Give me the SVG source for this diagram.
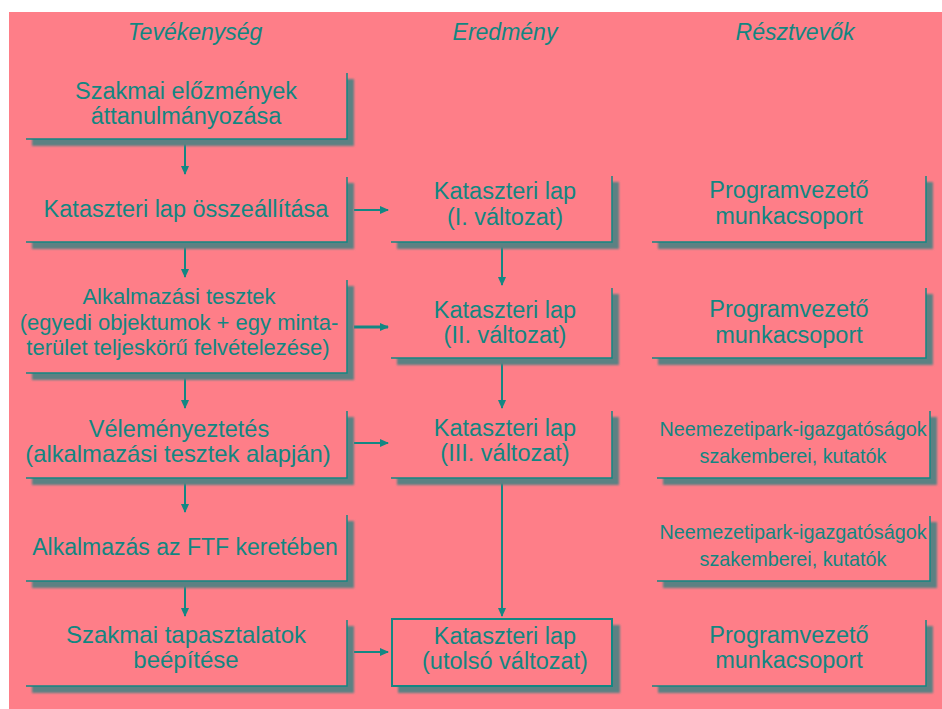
<svg xmlns="http://www.w3.org/2000/svg" width="942" height="709" viewBox="0 0 942 709">
<defs>
<style>
.bg{fill:#fe7e88}
.sh{fill:#5b8183;filter:url(#blur)}
.face{fill:#fe7e88}
.edge{fill:none;stroke:#138783;stroke-width:1.5}
.frame{fill:#fe7e88;stroke:#138783;stroke-width:2}
text{font-family:"Liberation Sans",Arial,sans-serif;fill:#128681;text-anchor:middle}
.t{font-size:23.5px}
.m{font-size:22px}
.s{font-size:19.8px}
.h{font-size:23px;font-style:italic}
.c{fill:none;stroke:#138783;stroke-width:2}
.cw{fill:none;stroke:#138783;stroke-width:3}
</style>
<filter id="blur" x="-5%" y="-5%" width="110%" height="110%"><feGaussianBlur stdDeviation="1"/></filter>
<marker id="ah" markerWidth="10" markerHeight="10" refX="8" refY="5" orient="auto" markerUnits="userSpaceOnUse">
<path d="M0,1 L9,5 L0,9 Z" fill="#138783"/>
</marker>
</defs>
<rect class="bg" x="9" y="12" width="933" height="697"/>
<g id="headers">
<text class="h" x="195" y="40">Tevékenység</text>
<text class="h" x="505" y="40">Eredmény</text>
<text class="h" x="795" y="40">Résztvevők</text>
</g>
<g id="connectors">
<path class="c" d="M185,139 V174" marker-end="url(#ah)"/>
<path class="c" d="M185,242 V277" marker-end="url(#ah)"/>
<path class="c" d="M185,373 V408" marker-end="url(#ah)"/>
<path class="c" d="M185,478 V512" marker-end="url(#ah)"/>
<path class="c" d="M185,581 V616" marker-end="url(#ah)"/>
<path class="c" d="M354,210 H388" marker-end="url(#ah)"/>
<path class="cw" d="M354,327 H388" marker-end="url(#ah)"/>
<path class="c" d="M354,443 H388" marker-end="url(#ah)"/>
<path class="c" d="M354,652 H388" marker-end="url(#ah)"/>
<path class="c" d="M502,242 V285" marker-end="url(#ah)"/>
<path class="c" d="M502,358 V408" marker-end="url(#ah)"/>
<path class="c" d="M502,478 V616" marker-end="url(#ah)"/>
</g>
<g id="n1">
<rect class="sh" x="32" y="79" width="322" height="67"/>
<rect class="face" x="26" y="73" width="321" height="66"/>
<path class="edge" d="M347,73 V139 H26"/>
<text class="t" x="186" y="99">Szakmai előzmények</text>
<text class="t" x="186" y="124">áttanulmányozása</text>
</g>
<g id="n2">
<rect class="sh" x="32" y="183" width="322" height="66"/>
<rect class="face" x="26" y="177" width="321" height="65"/>
<path class="edge" d="M347,177 V242 H26"/>
<text class="t" x="186" y="217">Kataszteri lap összeállítása</text>
</g>
<g id="n3">
<rect class="sh" x="32" y="286" width="322" height="94"/>
<rect class="face" x="26" y="280" width="321" height="93"/>
<path class="edge" d="M347,280 V373 H26"/>
<text class="m" x="179" y="304">Alkalmazási tesztek</text>
<text class="m" x="179" y="330">(egyedi objektumok + egy minta-</text>
<text class="m" x="178" y="355">terület teljeskörű felvételezése)</text>
</g>
<g id="n4">
<rect class="sh" x="32" y="417" width="322" height="68"/>
<rect class="face" x="26" y="411" width="321" height="67"/>
<path class="edge" d="M347,411 V478 H26"/>
<text class="t" x="179" y="437">Véleményeztetés</text>
<text class="t" x="178" y="462" style="font-size:23.8px">(alkalmazási tesztek alapján)</text>
</g>
<g id="n5">
<rect class="sh" x="32" y="521" width="322" height="67"/>
<rect class="face" x="26" y="515" width="321" height="66"/>
<path class="edge" d="M347,515 V581 H26"/>
<text class="t" x="185" y="555" style="font-size:23px">Alkalmazás az FTF keretében</text>
</g>
<g id="n6">
<rect class="sh" x="32" y="626" width="322" height="67"/>
<rect class="face" x="26" y="620" width="321" height="66"/>
<path class="edge" d="M347,620 V686 H26"/>
<text class="t" x="186" y="643" style="font-size:24px">Szakmai tapasztalatok</text>
<text class="t" x="186" y="668" style="font-size:24px">beépítése</text>
</g>
<g id="r1">
<rect class="sh" x="397" y="182" width="222" height="67"/>
<rect class="face" x="391" y="176" width="221" height="66"/>
<path class="edge" d="M612,176 V242 H391"/>
<text class="t" x="505" y="199">Kataszteri lap</text>
<text class="t" x="505" y="225">(I. változat)</text>
</g>
<g id="r2">
<rect class="sh" x="397" y="294" width="222" height="71"/>
<rect class="face" x="391" y="288" width="221" height="70"/>
<path class="edge" d="M612,288 V358 H391"/>
<text class="t" x="505" y="318">Kataszteri lap</text>
<text class="t" x="505" y="343">(II. változat)</text>
</g>
<g id="r3">
<rect class="sh" x="397" y="417" width="222" height="68"/>
<rect class="face" x="391" y="411" width="221" height="67"/>
<path class="edge" d="M612,411 V478 H391"/>
<text class="t" x="505" y="436">Kataszteri lap</text>
<text class="t" x="505" y="461">(III. változat)</text>
</g>
<g id="r4">
<rect class="sh" x="398" y="625" width="222" height="68"/>
<rect class="frame" x="392" y="619" width="220" height="67"/>
<text class="t" x="505" y="644">Kataszteri lap</text>
<text class="t" x="505" y="669">(utolsó változat)</text>
</g>
<g id="p1">
<rect class="sh" x="658" y="182" width="275" height="67"/>
<rect class="face" x="652" y="176" width="274" height="66"/>
<path class="edge" d="M926,176 V242 H652"/>
<text class="t" x="789" y="198">Programvezető</text>
<text class="t" x="789" y="224">munkacsoport</text>
</g>
<g id="p2">
<rect class="sh" x="658" y="294" width="275" height="71"/>
<rect class="face" x="652" y="288" width="274" height="70"/>
<path class="edge" d="M926,288 V358 H652"/>
<text class="t" x="789" y="317">Programvezető</text>
<text class="t" x="789" y="343">munkacsoport</text>
</g>
<g id="p3">
<rect class="sh" x="663" y="417" width="274" height="68"/>
<rect class="face" x="657" y="411" width="273" height="67"/>
<path class="edge" d="M930,411 V478 H657"/>
<text class="s" x="793" y="436">Neemezetipark-igazgatóságok</text>
<text class="s" x="793" y="463">szakemberei, kutatók</text>
</g>
<g id="p4">
<rect class="sh" x="663" y="522" width="274" height="66"/>
<rect class="face" x="657" y="516" width="273" height="65"/>
<path class="edge" d="M930,516 V581 H657"/>
<text class="s" x="793" y="539">Neemezetipark-igazgatóságok</text>
<text class="s" x="793" y="566">szakemberei, kutatók</text>
</g>
<g id="p5">
<rect class="sh" x="658" y="626" width="275" height="67"/>
<rect class="face" x="652" y="620" width="274" height="66"/>
<path class="edge" d="M926,620 V686 H652"/>
<text class="t" x="789" y="643">Programvezető</text>
<text class="t" x="789" y="668">munkacsoport</text>
</g>
</svg>
